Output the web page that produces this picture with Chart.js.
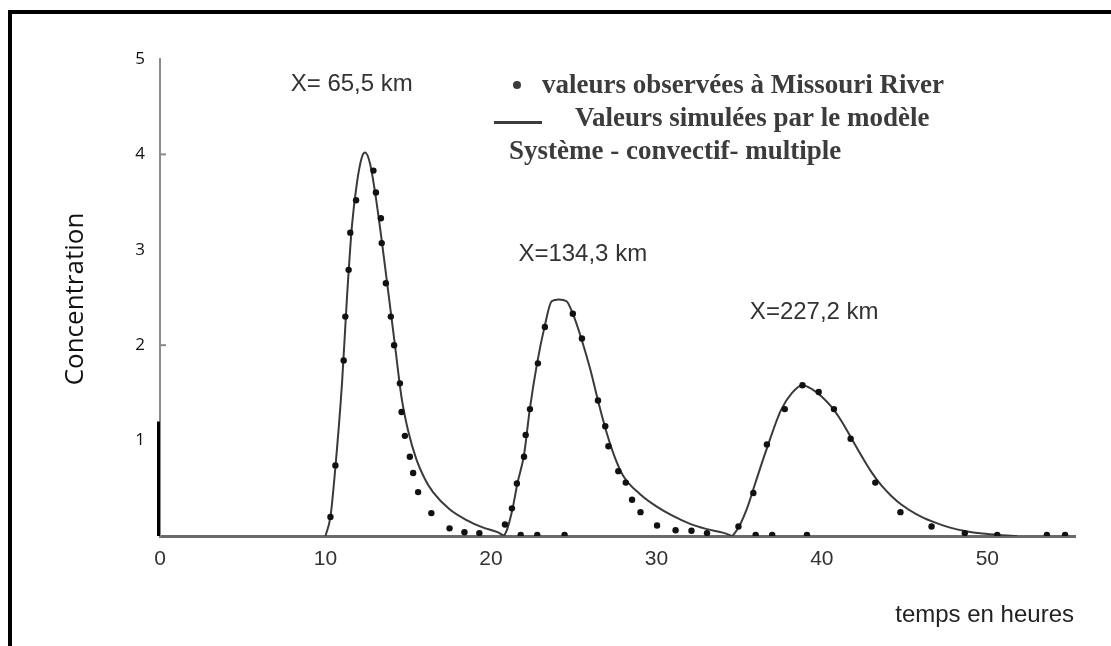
<!DOCTYPE html>
<html>
<head>
<meta charset="utf-8">
<script src="https://cdn.jsdelivr.net/npm/chart.js@4"></script>
<style>
    html, body { margin: 0; padding: 0; background: #fff; }
    #wrap { width: 1111px; height: 646px; position: relative; }
</style>
</head>
<body>
<div id="wrap"><canvas id="graficoConcentration"></canvas></div>
<script>

// courbe simulée, X = 65,5 km
const simule1X = [10.0, 10.3, 10.6, 11.0, 11.3, 11.6, 11.9, 12.2, 12.4, 12.7, 13.0, 13.4, 13.8, 14.2, 14.6, 15.0, 15.5, 16.0, 16.5, 17.5, 18.5, 19.5, 20.4, 20.8];
const simule1Y = [0, 0.2, 0.72, 1.6, 2.5, 3.25, 3.7, 3.97, 4.02, 3.9, 3.6, 3.1, 2.55, 2.0, 1.45, 1.1, 0.8, 0.6, 0.46, 0.28, 0.17, 0.09, 0.04, 0];

// courbe simulée, X = 134,3 km
const simule2X = [20.8, 21.0, 21.3, 21.6, 22.0, 22.35, 22.8, 23.25, 23.67, 24.1, 24.57, 24.95, 25.5, 26.0, 26.5, 27.0, 27.5, 28.0, 29.0, 30.0, 31.0, 32.0, 33.0, 34.0, 34.6];
const simule2Y = [0, 0.08, 0.28, 0.55, 0.85, 1.33, 1.82, 2.2, 2.46, 2.48, 2.46, 2.33, 2.05, 1.75, 1.4, 1.08, 0.82, 0.63, 0.44, 0.31, 0.21, 0.13, 0.075, 0.035, 0];

// courbe simulée, X = 227,2 km
const simule3X = [34.6, 35.0, 35.5, 35.97, 36.64, 37.53, 38.2, 38.83, 39.4, 40.0, 40.6, 41.2, 41.8, 42.4, 43.0, 43.6, 44.2, 44.8, 45.7, 46.7, 47.7, 48.7, 49.7, 50.7, 51.8];
const simule3Y = [0, 0.1, 0.3, 0.55, 0.9, 1.32, 1.5, 1.58, 1.54, 1.46, 1.35, 1.2, 1.02, 0.84, 0.67, 0.53, 0.42, 0.33, 0.23, 0.15, 0.09, 0.05, 0.025, 0.01, 0];

// valeurs observées
const observe1X = [10.3, 10.6, 11.1, 11.2, 11.4, 11.5, 11.85, 12.9, 13.05, 13.35, 13.4, 13.65, 13.95, 14.15, 14.5, 14.6, 14.8, 15.1, 15.3, 15.6, 16.4, 17.5, 18.4, 19.3];
const observe1Y = [0.2, 0.74, 1.84, 2.3, 2.79, 3.18, 3.52, 3.83, 3.6, 3.33, 3.07, 2.65, 2.3, 2.0, 1.6, 1.3, 1.05, 0.83, 0.66, 0.46, 0.24, 0.08, 0.04, 0.03];

const observe2X = [20.85, 21.27, 21.57, 21.8, 22.0, 22.1, 22.36, 22.8, 22.84, 23.26, 24.45, 24.95, 25.5, 26.47, 26.91, 27.1, 27.7, 28.15, 28.53, 29.04, 30.04, 31.16, 32.12, 33.06, 36.0, 37.0, 39.1];
const observe2Y = [0.12, 0.29, 0.55, 0.01, 0.83, 1.06, 1.33, 0.01, 1.81, 2.19, 0.01, 2.33, 2.07, 1.42, 1.15, 0.94, 0.68, 0.56, 0.38, 0.25, 0.11, 0.06, 0.055, 0.03, 0.01, 0.01, 0.01];

const observe3X = [34.96, 35.86, 36.68, 37.76, 38.83, 39.81, 40.73, 41.74, 43.23, 44.75, 46.63, 48.64, 50.6, 53.6, 54.7];
const observe3Y = [0.1, 0.45, 0.96, 1.33, 1.58, 1.51, 1.33, 1.02, 0.56, 0.25, 0.1, 0.03, 0.01, 0.01, 0.01];

// étiquettes des pics
const etiquettesPics = ["X= 65,5 km", "X=134,3 km", "X=227,2 km"];
const etiquettesPicsX = [7.9, 21.66, 35.65];
const etiquettesPicsY = [4.73, 2.95, 2.34];

const ticksX = [0, 10, 20, 30, 40, 50];
const ticksY = [1, 2, 3, 4, 5];

function montarPontos(xs, ys) {
    return xs.map((x, i) => ({ x, y: ys[i] }));
}

const observados =
    montarPontos(observe1X, observe1Y)
        .concat(montarPontos(observe2X, observe2Y))
        .concat(montarPontos(observe3X, observe3Y));

function datasetSimule(xs, ys) {
    return {
        type: "line",
        data: montarPontos(xs, ys),
        borderColor: "#3a3a3a",
        borderWidth: 2,
        pointRadius: 0,
        cubicInterpolationMode: "monotone",
        fill: false,
        order: 1
    };
}

const decorPlugin = {
    id: "decor",
    afterDraw(chart) {
        const ctx = chart.ctx;
        const sx = chart.scales.x;
        const sy = chart.scales.y;

        ctx.save();

        // cadre
        ctx.fillStyle = "#000";
        ctx.fillRect(8, 10, 1103, 4);
        ctx.fillRect(8, 10, 4, 636);

        // trait épais sur l'axe
        ctx.fillRect(sx.getPixelForValue(0) - 3, sy.getPixelForValue(1.2), 3, sy.getPixelForValue(0) - sy.getPixelForValue(1.2));

        // petites graduations sur l'axe y
        ctx.fillStyle = "#8a8a8a";
        [4, 2].forEach(v => {
            ctx.fillRect(sx.getPixelForValue(0), sy.getPixelForValue(v) - 1, 6, 2);
        });

        // étiquettes des pics
        ctx.fillStyle = "#333";
        ctx.font = "24px 'Liberation Sans', Arial, sans-serif";
        ctx.textBaseline = "middle";
        ctx.textAlign = "left";
        etiquettesPics.forEach((t, i) => {
            ctx.fillText(t, sx.getPixelForValue(etiquettesPicsX[i]), sy.getPixelForValue(etiquettesPicsY[i]));
        });

        // légende
        ctx.fillStyle = "#3c3c3c";
        ctx.textBaseline = "alphabetic";
        ctx.font = "bold 27px 'Liberation Serif', 'Times New Roman', serif";
        ctx.beginPath();
        ctx.arc(517, 85, 4, 0, Math.PI * 2);
        ctx.fill();
        ctx.fillText("valeurs observées à Missouri River", 542, 93);
        ctx.fillRect(494, 121, 48, 3);
        ctx.fillText("Valeurs simulées par le modèle", 575, 126);
        ctx.fillText("Système - convectif- multiple", 509, 159);

        // titres des axes
        ctx.fillStyle = "#222";
        ctx.textBaseline = "middle";
        ctx.font = "24px 'Liberation Sans', Arial, sans-serif";
        ctx.textAlign = "right";
        ctx.fillText("temps en heures", 1074, 615);

        ctx.fillStyle = "#111";
        ctx.translate(83, 299);
        ctx.rotate(-Math.PI / 2);
        ctx.textAlign = "center";
        ctx.textBaseline = "alphabetic";
        ctx.font = "26px 'Open Sans', sans-serif";
        ctx.fillText("Concentration", 0, 0);

        ctx.restore();
    }
};

new Chart(
    document.getElementById("graficoConcentration"),
    {
        type: "scatter",
        data: {
            datasets: [
                {
                    data: observados,
                    backgroundColor: "#111",
                    borderColor: "#111",
                    pointRadius: 3.2,
                    borderWidth: 0,
                    order: 0
                },
                datasetSimule(simule1X, simule1Y),
                datasetSimule(simule2X, simule2Y),
                datasetSimule(simule3X, simule3Y)
            ]
        },
        options: {
            responsive: true,
            maintainAspectRatio: false,
            animation: false,
            layout: {
                padding: { left: 120, top: 59, right: 36, bottom: 0 }
            },
            plugins: {
                legend: { display: false },
                tooltip: { enabled: false }
            },
            scales: {
                x: {
                    type: "linear",
                    min: 0,
                    max: 55.3,
                    afterFit: s => { s.height = 110; },
                    afterBuildTicks: s => { s.ticks = ticksX.map(v => ({ value: v })); },
                    grid: { display: false, drawTicks: false },
                    border: { display: true, color: "#6a6a6a", width: 3 },
                    ticks: {
                        padding: 11,
                        color: "#333",
                        font: { family: "'Liberation Sans', Arial, sans-serif", size: 21 }
                    }
                },
                y: {
                    type: "linear",
                    min: 0,
                    max: 5,
                    afterFit: s => { s.width = 40; },
                    afterBuildTicks: s => { s.ticks = ticksY.map(v => ({ value: v })); },
                    grid: { display: false, drawTicks: false },
                    border: { display: true, color: "#8a8a8a", width: 2 },
                    ticks: {
                        padding: 15,
                        color: "#111",
                        font: { family: "'Open Sans', sans-serif", size: 17 }
                    }
                }
            }
        },
        plugins: [decorPlugin]
    }
);
</script>
</body>
</html>
